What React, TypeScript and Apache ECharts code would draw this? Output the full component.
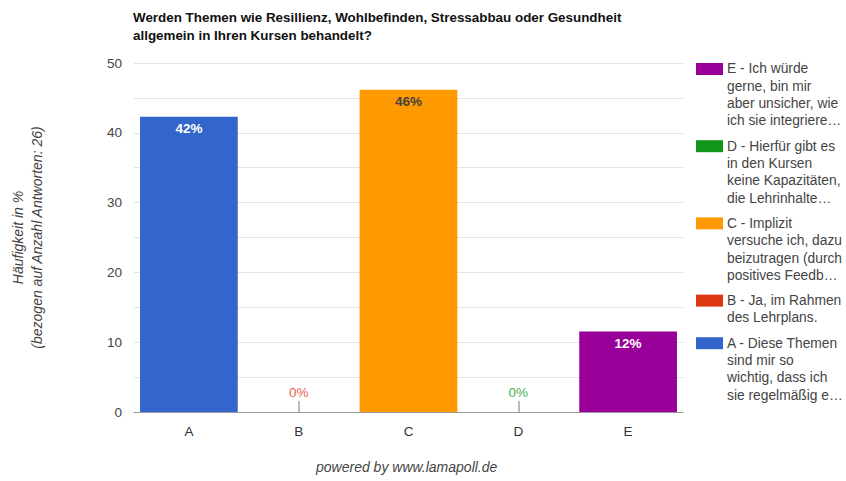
import React, { useEffect, useRef } from "react";
import * as echarts from "echarts";

const title = [
  "Werden Themen wie Resillienz, Wohlbefinden, Stressabbau oder Gesundheit",
  "allgemein in Ihren Kursen behandelt?",
];
const categories = ["A", "B", "C", "D", "E"];
const values = [42.31, 0, 46.15, 0, 11.54];
const barColors = ["#3366cc", "#dc3912", "#ff9900", "#109618", "#990099"];
const labelColors = ["#ffffff", "#e8614a", "#444444", "#4caf50", "#ffffff"];
const yTicks = [0, 10, 20, 30, 40, 50];
const yAxisTitle = ["Häufigkeit in %", "(bezogen auf Anzahl Antworten: 26)"];
const footer = "powered by www.lamapoll.de";

// legend entries, listed top to bottom (E first)
const legendKeys = ["E", "D", "C", "B", "A"];
const legendLines = [
  ["E - Ich würde", "gerne, bin mir", "aber unsicher, wie", "ich sie integriere…"],
  ["D - Hierfür gibt es", "in den Kursen", "keine Kapazitäten,", "die Lehrinhalte…"],
  ["C - Implizit", "versuche ich, dazu", "beizutragen (durch", "positives Feedb…"],
  ["B - Ja, im Rahmen", "des Lehrplans."],
  ["A - Diese Themen", "sind mir so", "wichtig, dass ich", "sie regelmäßig e…"],
];

const FONT = "'Liberation Sans', Arial, Helvetica, sans-serif";

export default function App() {
  const ref = useRef<HTMLDivElement>(null);

  useEffect(() => {
    if (!ref.current) return;
    const chart = echarts.init(ref.current, undefined, { renderer: "svg" });

    // legend built as graphic groups so the swatch sits on the first text line
    const lineH = 17.3;
    const gap = 8;
    let y = 69;
    const legendItems: any[] = [];
    legendKeys.forEach((k, i) => {
      const idx = categories.indexOf(k);
      const lines = legendLines[i];
      legendItems.push({
        type: "rect",
        left: 696,
        top: y - 6,
        shape: { width: 27, height: 12 },
        style: { fill: barColors[idx] },
      });
      legendItems.push({
        type: "text",
        left: 727,
        top: y - lineH / 2,
        style: {
          text: lines.join("\n"),
          font: `13.8px ${FONT}`,
          lineHeight: lineH,
          fill: "#444444",
        },
      });
      y += lines.length * lineH + gap;
    });

    chart.setOption({
      animation: false,
      textStyle: { fontFamily: FONT },
      title: {
        text: title.join("\n"),
        left: 128,
        top: 3,
        textStyle: {
          fontSize: 13.4,
          fontWeight: "bold",
          color: "#111111",
          lineHeight: 18,
          fontFamily: FONT,
        },
      },
      grid: { left: 133, right: 163, top: 63, bottom: 69 },
      xAxis: {
        type: "category",
        data: categories,
        axisLine: { lineStyle: { color: "#999999", width: 1 } },
        axisTick: {
          show: true,
          inside: true,
          length: 11,
          alignWithLabel: true,
          lineStyle: { color: "#bbbbbb", width: 2 },
        },
        axisLabel: { color: "#333333", fontSize: 13.5, margin: 12 },
      },
      yAxis: {
        type: "value",
        min: 0,
        max: 50,
        interval: 5,
        name: yAxisTitle.join("\n"),
        nameLocation: "middle",
        nameGap: 88,
        nameRotate: 90,
        nameTextStyle: {
          fontStyle: "italic",
          fontSize: 14,
          color: "#444444",
          lineHeight: 19,
        },
        axisLine: { show: false },
        axisTick: { show: false },
        splitLine: { lineStyle: { color: "#e4e4e4" } },
        axisLabel: {
          color: "#444444",
          fontSize: 13.5,
          margin: 12,
          formatter: (v: number) => (yTicks.includes(v) ? String(v) : ""),
        },
      },
      series: [
        {
          type: "bar",
          barCategoryGap: "11%",
          data: values.map((v, i) => ({
            value: v,
            itemStyle: { color: barColors[i] },
            label: {
              show: true,
              position: v > 0 ? "insideTop" : "top",
              distance: v > 0 ? 5 : 13,
              color: labelColors[i],
              fontWeight: v > 0 ? "bold" : "normal",
              fontSize: 13.5,
              formatter: () => `${Math.round(v)}%`,
            },
          })),
        },
      ],
      graphic: [
        ...legendItems,
        {
          type: "text",
          left: 316,
          top: 460,
          style: {
            text: footer,
            font: `italic 14px ${FONT}`,
            fill: "#444444",
          },
        },
      ],
    });

    return () => chart.dispose();
  }, []);

  return (
    <div
      ref={ref}
      style={{ position: "absolute", left: 0, top: 0, width: 846, height: 481, background: "#fff" }}
    />
  );
}
